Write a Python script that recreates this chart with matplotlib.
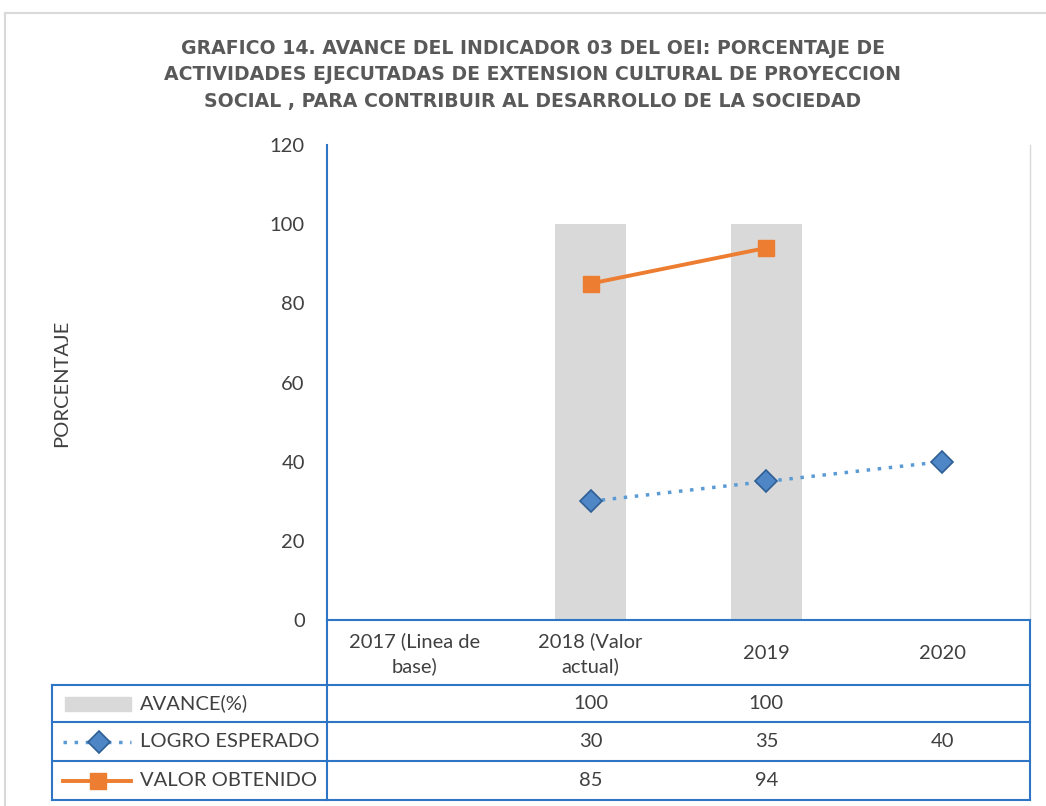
import matplotlib
matplotlib.use('Agg')
from matplotlib import pyplot as plt
from matplotlib.lines import Line2D
from matplotlib.patches import Rectangle
import numpy as np

plt.rcParams['font.family'] = ['Lato', 'DejaVu Sans']

# data
categories = ['2017 (Linea de\nbase)', '2018 (Valor\nactual)', '2019', '2020']
avance = [None, 100, 100, None]
logro_esperado = [None, 30, 35, 40]
valor_obtenido = [None, 85, 94, None]
series_names = ['AVANCE(%)', 'LOGRO ESPERADO', 'VALOR OBTENIDO']
title = ('GRAFICO 14. AVANCE DEL INDICADOR 03 DEL OEI: PORCENTAJE DE\n'
         'ACTIVIDADES EJECUTADAS DE EXTENSION CULTURAL DE PROYECCION\n'
         'SOCIAL , PARA CONTRIBUIR AL DESARROLLO DE LA SOCIEDAD')

GREY = '#d9d9d9'
BLUE = '#5b9bd5'
ORANGE = '#ed7d31'
TABLE_BLUE = '#2e75c6'
TEXT = '#404040'
FS = 14.5

W, H = 1046, 806
fig = plt.figure(figsize=(W / 100, H / 100), dpi=100)

def fx(px):
    return px / W

def fy(py):
    return 1 - py / H

# outer chart border (top/left light grey)
fig.add_artist(Line2D([fx(5), fx(1046)], [fy(13), fy(13)], color='#d9d9d9', lw=1.5))
fig.add_artist(Line2D([fx(5), fx(5)], [fy(13), fy(806)], color='#d9d9d9', lw=1.5))

left, right, top, bottom = 327, 1030, 145, 620
ax = fig.add_axes([fx(left), fy(bottom), fx(right - left), fy(top) - fy(bottom)])

x = np.arange(len(categories))
bar_x = [i for i, v in zip(x, avance) if v is not None]
bar_v = [v for v in avance if v is not None]
ax.bar(bar_x, bar_v, width=0.4, color=GREY, zorder=1)

le_x = [i for i, v in zip(x, logro_esperado) if v is not None]
le_v = [v for v in logro_esperado if v is not None]
ax.plot(le_x, le_v, linestyle=(0, (1, 2.2)), color=BLUE, lw=2.5, marker='D', markersize=11,
        markerfacecolor='#4f86c6', markeredgecolor='#2f5f95', markeredgewidth=1.2, zorder=3)

vo_x = [i for i, v in zip(x, valor_obtenido) if v is not None]
vo_v = [v for v in valor_obtenido if v is not None]
ax.plot(vo_x, vo_v, color=ORANGE, lw=2.8, marker='s', markersize=12, zorder=3)

ax.set_xlim(-0.5, 3.5)
ax.set_ylim(0, 120)
ax.set_yticks(range(0, 121, 20))
ax.tick_params(axis='y', length=0, labelsize=FS, labelcolor=TEXT, pad=16)
ax.set_xticks([])
for s in ['top', 'bottom']:
    ax.spines[s].set_visible(False)
ax.spines['left'].set_color(TABLE_BLUE)
ax.spines['left'].set_linewidth(1.5)
ax.spines['right'].set_color('#d9d9d9')
ax.spines['right'].set_linewidth(1)

fig.text(fx(62), fy(383), 'PORCENTAJE', rotation=90, ha='center', va='center',
         fontsize=FS, color=TEXT)

fig.text(fx(533), fy(75), title, ha='center', va='center', fontsize=13.6,
         fontweight='bold', color='#595959', family='DejaVu Sans', linespacing=1.5)

# data table
col_w = (right - left) / len(categories)
centers = [left + col_w * (i + 0.5) for i in range(len(categories))]
header_bottom = 685
row_edges = [685, 722, 761, 800]
tl = 52

def hline(x0, x1, y):
    fig.add_artist(Line2D([fx(x0), fx(x1)], [fy(y), fy(y)], color=TABLE_BLUE, lw=1.5))

def vline(xp, y0, y1):
    fig.add_artist(Line2D([fx(xp), fx(xp)], [fy(y0), fy(y1)], color=TABLE_BLUE, lw=1.5))

hline(left, right, bottom)
for y in row_edges:
    hline(tl, right, y)
vline(tl, header_bottom, row_edges[-1])
vline(left, bottom, row_edges[-1])
vline(right, bottom, row_edges[-1])

for c, lab in zip(centers, categories):
    fig.text(fx(c), fy((bottom + header_bottom) / 2 + 1), lab, ha='center', va='center',
             fontsize=FS, color=TEXT, linespacing=1.5)

rows = [avance, logro_esperado, valor_obtenido]
for r, (name, vals) in enumerate(zip(series_names, rows)):
    yc = (row_edges[r] + row_edges[r + 1]) / 2
    fig.text(fx(140), fy(yc), name, ha='left', va='center', fontsize=FS, color=TEXT)
    for c, v in zip(centers, vals):
        if v is not None:
            fig.text(fx(c), fy(yc), str(v), ha='center', va='center', fontsize=FS, color=TEXT)

# legend keys
y0 = (row_edges[0] + row_edges[1]) / 2
fig.add_artist(Rectangle((fx(65), fy(y0 + 7)), fx(66), fy(y0 - 7) - fy(y0 + 7), color=GREY))
y1 = (row_edges[1] + row_edges[2]) / 2
fig.add_artist(Line2D([fx(63), fx(131)], [fy(y1), fy(y1)], linestyle=(0, (1, 2.2)), color=BLUE, lw=2.5))
fig.add_artist(Line2D([fx(99)], [fy(y1)], marker='D', markersize=11, markerfacecolor='#4f86c6',
                      markeredgecolor='#2f5f95', markeredgewidth=1.2))
y2 = (row_edges[2] + row_edges[3]) / 2
fig.add_artist(Line2D([fx(63), fx(131)], [fy(y2), fy(y2)], color=ORANGE, lw=2.8))
fig.add_artist(Line2D([fx(98)], [fy(y2)], marker='s', markersize=12, color=ORANGE))

fig.savefig('out.png', dpi=100)
